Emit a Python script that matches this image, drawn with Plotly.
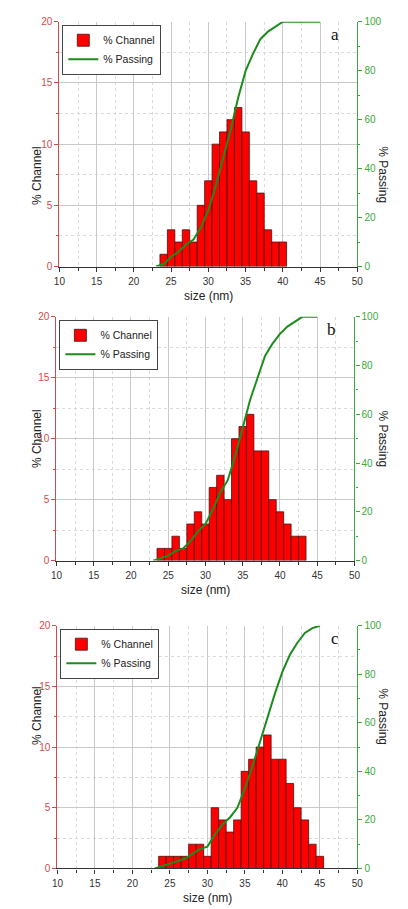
import plotly.graph_objects as go

# ---- data -------------------------------------------------------------
size_a = [24, 25, 26, 27, 28, 29, 30, 31, 32, 33, 34, 35, 36, 37, 38, 39, 40]
channel_a = [1, 3, 2, 3, 2, 5, 7, 10, 11, 12, 13, 11, 7, 6, 3, 2, 2]

size_b = [24, 25, 26, 27, 28, 29, 30, 31, 32, 33, 34, 35, 36, 37, 38, 39, 40, 41, 42, 43]
channel_b = [1, 1, 2, 1, 3, 4, 3, 6, 7, 5, 10, 11, 12, 9, 9, 5, 4, 3, 2, 2]

size_c = [24, 25, 26, 27, 28, 29, 30, 31, 32, 33, 34, 35, 36, 37, 38, 39, 40, 41, 42, 43, 44, 45]
channel_c = [1, 1, 1, 1, 2, 2, 1, 5, 4, 3, 4, 8, 9, 10, 11, 9, 9, 7, 5, 4, 2, 1]

pass_size = [23, 24, 25, 26, 27, 28, 29, 30, 31, 32, 33, 34, 35, 36, 37, 38, 39, 40, 41, 42, 43, 44, 45]
passing_a = [0, 1, 4, 6, 9, 11, 16, 23, 33, 44, 56, 69, 80, 87, 93, 96, 98, 100, 100, 100, 100, 100, 100]
passing_b = [0, 1, 2, 4, 5, 8, 12, 15, 21, 28, 33, 43, 54, 66, 75, 84, 89, 93, 96, 98, 100, 100, 100]
passing_c = [0, 1, 2, 3, 4, 6, 8, 9, 14, 18, 21, 25, 33, 42, 52, 63, 72, 81, 88, 93, 97, 99, 100]

panel_labels = ["a", "b", "c"]

# ---- styling ----------------------------------------------------------
W, H = 408, 909
FONT = "Liberation Sans, Arial, sans-serif"
RED_AX = "#d24b4b"
GREEN_AX = "#3aa83a"
GREEN_LINE = "#1c8c1c"
BAR_RED = "#ff0000"
GRID = "#c9c9c9"
GRID_MINOR = "#dadada"

# plot rectangles in pixels: (left, right, top, bottom)
rects = [(55, 362, 16, 264), (52, 359, 315, 562), (53, 362, 628, 874)]


def fx(p):
    return p / W


def fy(p):
    return 1 - p / H


fig = go.Figure()
layout = dict(
    width=W, height=H,
    margin=dict(l=0, r=0, t=0, b=0),
    paper_bgcolor="white", plot_bgcolor="white",
    font=dict(family=FONT, size=10, color="#333"),
    barmode="overlay",
    annotations=[],
)

datasets = [
    (size_a, channel_a, passing_a),
    (size_b, channel_b, passing_b),
    (size_c, channel_c, passing_c),
]

for i, ((sz, ch, ps), (l, r, t, b)) in enumerate(zip(datasets, rects)):
    n = i + 1
    xa = "x" if n == 1 else f"x{n}"
    ya_left = f"y{2 * n - 1}" if n > 1 else "y"
    ya_right = f"y{2 * n}"
    leg = "legend" if n == 1 else f"legend{n}"

    fig.add_trace(go.Bar(
        x=sz, y=ch, width=1, name="% Channel",
        marker=dict(color=BAR_RED, line=dict(color="#4a1010", width=0.8)),
        xaxis=xa, yaxis=ya_left, legend=leg,
    ))
    fig.add_trace(go.Scatter(
        x=pass_size, y=ps, mode="lines", name="% Passing",
        line=dict(color=GREEN_LINE, width=2),
        xaxis=xa, yaxis=ya_right, legend=leg,
    ))

    xdom = [fx(l), fx(r)]
    ydom = [fy(b), fy(t)]

    xkey = "xaxis" if n == 1 else f"xaxis{n}"
    ylkey = "yaxis" if n == 1 else f"yaxis{2 * n - 1}"
    yrkey = f"yaxis{2 * n}"
    xtkey = f"xaxis{n + 3}"

    layout[xkey] = dict(
        domain=xdom, anchor=ya_left, range=[10, 50],
        tick0=10, dtick=5, ticks="outside", ticklen=4, tickcolor="#333",
        showline=True, linecolor="#333", linewidth=1.2,
        showgrid=True, gridcolor=GRID, gridwidth=1,
        minor=dict(dtick=2.5, ticks="outside", ticklen=3, tickcolor="#333",
                   showgrid=True, gridcolor=GRID_MINOR, griddash="dot"),
        tickfont=dict(size=10, color="#333"), zeroline=False,
        ticklabelstandoff=1,
    )
    # top frame edge with inward ticks
    layout[xtkey] = dict(
        overlaying=xa, anchor=ya_left, side="top", range=[10, 50],
        tick0=10, dtick=5, ticks="inside", ticklen=4, tickcolor="#333",
        showline=True, linecolor="#555", linewidth=1.2,
        showgrid=False, showticklabels=False,
        minor=dict(dtick=2.5, ticks="inside", ticklen=2, tickcolor="#333"),
    )
    layout[ylkey] = dict(
        domain=ydom, anchor=xa, range=[0, 20],
        tick0=0, dtick=5, ticks="outside", ticklen=4, tickcolor=RED_AX,
        showline=True, linecolor=RED_AX, linewidth=1.2,
        showgrid=True, gridcolor=GRID, gridwidth=1,
        minor=dict(dtick=2.5, ticks="outside", ticklen=2, tickcolor=RED_AX,
                   showgrid=True, gridcolor=GRID_MINOR, griddash="dot"),
        tickfont=dict(size=10, color=RED_AX), zeroline=False,
    )
    layout[yrkey] = dict(
        overlaying=ya_left, anchor=xa, side="right", range=[0, 100],
        tick0=0, dtick=20, ticks="outside", ticklen=4, tickcolor=GREEN_AX,
        showline=True, linecolor=GREEN_AX, linewidth=1.2,
        showgrid=False,
        minor=dict(dtick=10, ticks="outside", ticklen=2, tickcolor=GREEN_AX),
        tickfont=dict(size=10, color=GREEN_AX), zeroline=False,
    )

    layout[leg] = dict(
        x=fx(l + 3), y=fy(t + 3), xanchor="left", yanchor="top",
        bgcolor="white", bordercolor="#444", borderwidth=1,
        font=dict(size=10.5, family=FONT, color="#222"),
        itemwidth=30, tracegroupgap=0,
    )

    mid_y = (t + b) / 2
    layout["annotations"] += [
        dict(text="% Channel", x=fx(22), y=fy(mid_y), xref="paper", yref="paper",
             textangle=-90, showarrow=False, font=dict(size=12, color="#222")),
        dict(text="% Passing", x=fx(398), y=fy(mid_y), xref="paper", yref="paper",
             textangle=90, showarrow=False, font=dict(size=12, color="#222")),
        dict(text="size (nm)", x=fx((l + r) / 2), y=fy(b + 30), xref="paper", yref="paper",
             yanchor="middle", showarrow=False, font=dict(size=12, color="#222")),
        dict(text=panel_labels[i], x=fx(r - 17), y=fy(t + 13), xref="paper", yref="paper",
             yanchor="middle", showarrow=False,
             font=dict(size=17, family="Liberation Serif, Times New Roman, serif", color="#111")),
    ]

fig.update_layout(**layout)
fig.write_html("out.html")
